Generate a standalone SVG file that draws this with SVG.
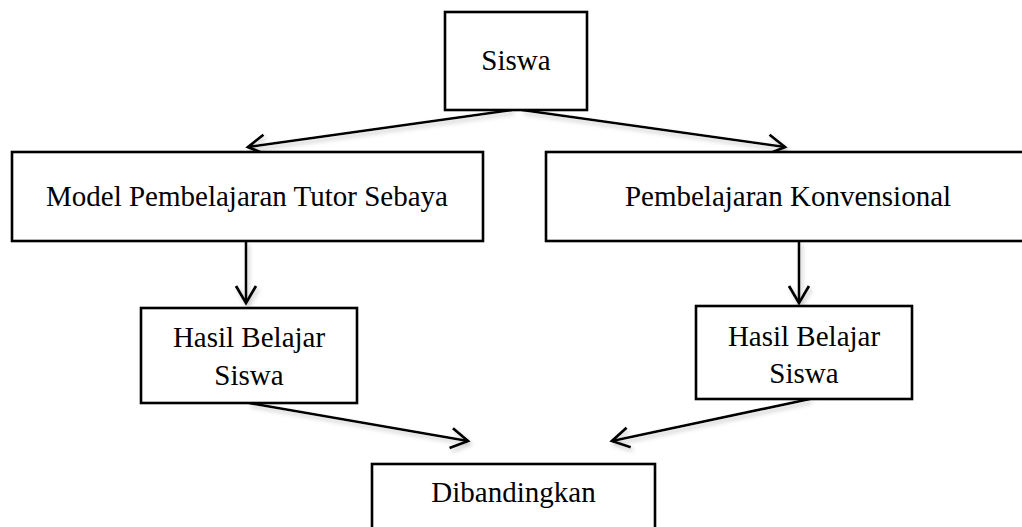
<svg xmlns="http://www.w3.org/2000/svg" width="1022" height="527" viewBox="0 0 1022 527">
<style>
.box{fill:#fff;stroke:#000;stroke-width:2.6}
.t{font-family:"Liberation Serif","Times New Roman",serif;font-size:29px;fill:#000;text-anchor:middle}
.c{fill:none;stroke:#000;stroke-width:2.6;marker-end:url(#ah)}
</style>
<defs>
<marker id="ah" markerUnits="userSpaceOnUse" viewBox="-20 -12 24 24" refX="0" refY="0" markerWidth="24" markerHeight="24" orient="auto">
<path d="M-17 -10 L0 0 L-17 10" fill="none" stroke="#000" stroke-width="2.8"/>
</marker>
<filter id="sh" x="-10%" y="-50%" width="120%" height="200%">
<feDropShadow dx="2" dy="3" stdDeviation="2" flood-color="#888" flood-opacity="0.45"/>
</filter>
</defs>
<rect width="1022" height="527" fill="#fff"/>
<g id="connectors" filter="url(#sh)">
<path class="c" d="M512 110 L248 147"/>
<path class="c" d="M522 110 L785 147"/>
<path class="c" d="M246 241 L246 303"/>
<path class="c" d="M799 241 L799 303"/>
<path class="c" d="M249 403 L468 441"/>
<path class="c" d="M810 399 L612 441"/>
</g>
<g id="siswa">
<rect class="box" x="445" y="12" width="142" height="98"/>
<text class="t" x="516" y="70">Siswa</text>
</g>
<g id="model">
<rect class="box" x="12" y="152" width="471" height="89"/>
<text class="t" x="247" y="206">Model Pembelajaran Tutor Sebaya</text>
</g>
<g id="konvensional">
<rect class="box" x="546" y="152" width="490" height="89"/>
<text class="t" x="788" y="206">Pembelajaran Konvensional</text>
</g>
<g id="hasil-kiri">
<rect class="box" x="141" y="308" width="216" height="95"/>
<text class="t" x="249" y="347">Hasil Belajar</text>
<text class="t" x="249" y="385">Siswa</text>
</g>
<g id="hasil-kanan">
<rect class="box" x="696" y="306" width="216" height="93"/>
<text class="t" x="804" y="346">Hasil Belajar</text>
<text class="t" x="804" y="383">Siswa</text>
</g>
<g id="dibandingkan">
<rect class="box" x="372" y="464" width="283" height="80"/>
<text class="t" x="513.5" y="502">Dibandingkan</text>
</g>
</svg>
